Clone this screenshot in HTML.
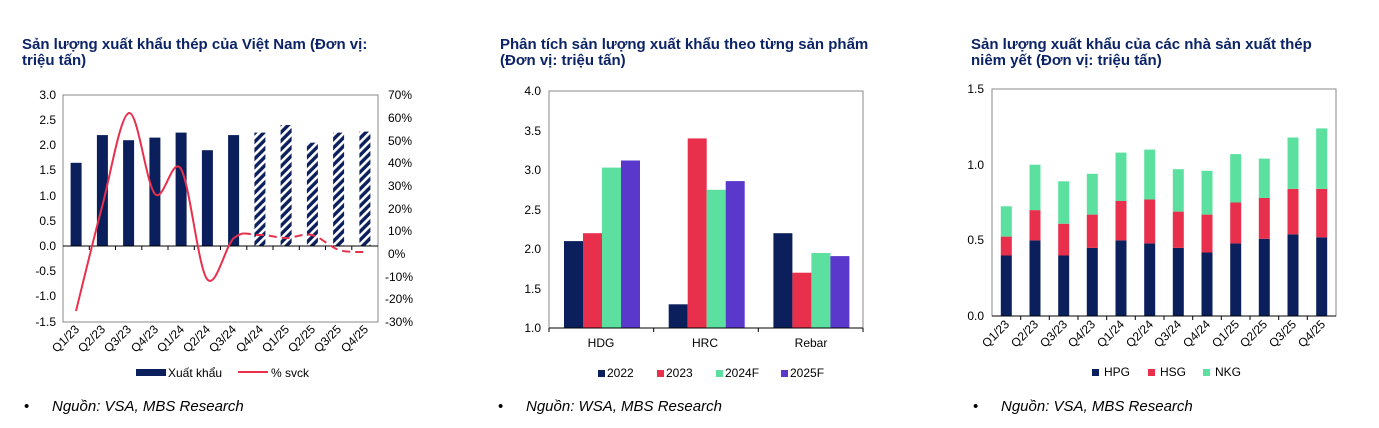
<!DOCTYPE html>
<html><head><meta charset="utf-8"><style>
html,body{margin:0;padding:0;background:#fff;}
svg{display:block;font-family:"Liberation Sans",Arial,sans-serif;}
.t{font-weight:bold;fill:#0c2466;font-size:15px;}
.a{font-size:12px;fill:#000;}
.s{font-size:15px;font-style:italic;fill:#000;}
</style></head><body>
<svg width="1379" height="428" viewBox="0 0 1379 428" xmlns="http://www.w3.org/2000/svg">
<defs>
<pattern id="h" width="6" height="6" patternUnits="userSpaceOnUse" patternTransform="rotate(45)">
<rect width="6" height="6" fill="#0a1f5c"/><rect width="2.6" height="6" fill="#fff"/>
</pattern>
</defs>
<!-- titles -->
<text class="t" x="22" y="49">Sản lượng xuất khẩu thép của Việt Nam (Đơn vị:</text>
<text class="t" x="22" y="65">triệu tấn)</text>
<text class="t" x="500" y="49">Phân tích sản lượng xuất khẩu theo từng sản phẩm</text>
<text class="t" x="500" y="65">(Đơn vị: triệu tấn)</text>
<text class="t" x="971" y="49">Sản lượng xuất khẩu của các nhà sản xuất thép</text>
<text class="t" x="971" y="65">niêm yết (Đơn vị: triệu tấn)</text>

<!-- CHART 1 -->
<g>
<rect x="63" y="95" width="315" height="227" fill="none" stroke="#888" stroke-width="1"/>
<g fill="#0a1f5c">
<rect x="70.6" y="162.8" width="11" height="83.2"/>
<rect x="96.9" y="135.1" width="11" height="110.9"/>
<rect x="123.1" y="140.2" width="11" height="105.8"/>
<rect x="149.4" y="137.6" width="11" height="108.4"/>
<rect x="175.6" y="132.6" width="11" height="113.4"/>
<rect x="201.9" y="150.2" width="11" height="95.8"/>
<rect x="228.1" y="135.1" width="11" height="110.9"/>
</g>
<g fill="url(#h)">
<rect x="254.4" y="132.6" width="11" height="113.4"/>
<rect x="280.6" y="125" width="11" height="121"/>
<rect x="306.9" y="142.7" width="11" height="103.3"/>
<rect x="333.1" y="132.6" width="11" height="113.4"/>
<rect x="359.4" y="131.6" width="11" height="114.4"/>
</g>
<line x1="63" y1="246" x2="378" y2="246" stroke="#000" stroke-width="1"/>
<g stroke="#000" stroke-width="1">
<line x1="89.3" y1="246" x2="89.3" y2="250"/><line x1="115.5" y1="246" x2="115.5" y2="250"/><line x1="141.8" y1="246" x2="141.8" y2="250"/><line x1="168" y1="246" x2="168" y2="250"/><line x1="194.3" y1="246" x2="194.3" y2="250"/><line x1="220.5" y1="246" x2="220.5" y2="250"/><line x1="246.8" y1="246" x2="246.8" y2="250"/><line x1="273" y1="246" x2="273" y2="250"/><line x1="299.3" y1="246" x2="299.3" y2="250"/><line x1="325.5" y1="246" x2="325.5" y2="250"/><line x1="351.8" y1="246" x2="351.8" y2="250"/>
</g>
<path d="M76,311 C80.3,293.7 93.2,240 102,207 C110.8,174 120.2,115.2 129,113 C137.8,110.8 146.3,184.7 155,194 C163.7,203.3 172.3,154.8 181,169 C189.7,183.2 198.2,267.5 207,279 C215.8,290.7 225.2,245.3 234,238 C238,235 240,234 243,233.5" fill="none" stroke="#e8304d" stroke-width="2"/>
<path d="M243,233.5 C248,233 251.3,235 260,235 C268.7,234.5 277.3,238 286,238 C294.7,238 303.2,233 312,235 C320.8,237 330.2,247.2 339,250 C347.8,252.8 360.7,251.7 365,252" fill="none" stroke="#e8304d" stroke-width="2" stroke-dasharray="8,5"/>
<g class="a" text-anchor="end">
<text x="56" y="99">3.0</text><text x="56" y="124">2.5</text><text x="56" y="149">2.0</text><text x="56" y="174">1.5</text><text x="56" y="200">1.0</text><text x="56" y="225">0.5</text><text x="56" y="250">0.0</text><text x="56" y="275">-0.5</text><text x="56" y="300">-1.0</text><text x="56" y="326">-1.5</text>
</g>
<g class="a">
<text x="388" y="99">70%</text><text x="388" y="122">60%</text><text x="388" y="145">50%</text><text x="388" y="167">40%</text><text x="388" y="190">30%</text><text x="388" y="213">20%</text><text x="388" y="235">10%</text><text x="388" y="258">0%</text><text x="385" y="281">-10%</text><text x="385" y="303">-20%</text><text x="385" y="326">-30%</text>
</g>
<g class="a" text-anchor="end">
<text transform="translate(80,330) rotate(-45)">Q1/23</text>
<text transform="translate(106,330) rotate(-45)">Q2/23</text>
<text transform="translate(132,330) rotate(-45)">Q3/23</text>
<text transform="translate(159,330) rotate(-45)">Q4/23</text>
<text transform="translate(185,330) rotate(-45)">Q1/24</text>
<text transform="translate(211,330) rotate(-45)">Q2/24</text>
<text transform="translate(237,330) rotate(-45)">Q3/24</text>
<text transform="translate(264,330) rotate(-45)">Q4/24</text>
<text transform="translate(290,330) rotate(-45)">Q1/25</text>
<text transform="translate(316,330) rotate(-45)">Q2/25</text>
<text transform="translate(342,330) rotate(-45)">Q3/25</text>
<text transform="translate(369,330) rotate(-45)">Q4/25</text>
</g>
<rect x="136" y="369" width="30" height="7" fill="#0a1f5c"/>
<text class="a" x="168" y="377">Xuất khẩu</text>
<line x1="238" y1="372" x2="268" y2="372" stroke="#e8304d" stroke-width="2"/>
<text class="a" x="271" y="377">% svck</text>
</g>

<!-- CHART 2 -->
<g>
<rect x="549" y="91" width="314" height="237" fill="none" stroke="#888"/>
<g fill="#0a1f5c"><rect x="564" y="241.1" width="19" height="86.9"/><rect x="668.7" y="304.3" width="19" height="23.7"/><rect x="773.4" y="233.2" width="19" height="94.8"/></g>
<g fill="#e8304d"><rect x="583" y="233.2" width="19" height="94.8"/><rect x="687.7" y="138.4" width="19" height="189.6"/><rect x="792.4" y="272.7" width="19" height="55.3"/></g>
<g fill="#5ce0a0"><rect x="602" y="167.6" width="19" height="160.4"/><rect x="706.7" y="189.8" width="19" height="138.2"/><rect x="811.4" y="253" width="19" height="75"/></g>
<g fill="#5b38cc"><rect x="621" y="160.5" width="19" height="167.5"/><rect x="725.7" y="181.1" width="19" height="146.9"/><rect x="830.4" y="256.1" width="19" height="71.9"/></g>
<line x1="549" y1="328" x2="863" y2="328" stroke="#000"/>
<g stroke="#000"><line x1="549" y1="328" x2="549" y2="332"/><line x1="653.7" y1="328" x2="653.7" y2="332"/><line x1="758.3" y1="328" x2="758.3" y2="332"/><line x1="863" y1="328" x2="863" y2="332"/></g>
<g class="a" text-anchor="end">
<text x="541" y="95">4.0</text><text x="541" y="135">3.5</text><text x="541" y="174">3.0</text><text x="541" y="214">2.5</text><text x="541" y="253">2.0</text><text x="541" y="293">1.5</text><text x="541" y="332">1.0</text>
</g>
<g class="a" text-anchor="middle"><text x="601" y="347">HDG</text><text x="705" y="347">HRC</text><text x="811" y="347">Rebar</text></g>
<rect x="598" y="370" width="7" height="7" fill="#0a1f5c"/><text class="a" x="607" y="377">2022</text>
<rect x="657" y="370" width="7" height="7" fill="#e8304d"/><text class="a" x="666" y="377">2023</text>
<rect x="716" y="370" width="7" height="7" fill="#5ce0a0"/><text class="a" x="725" y="377">2024F</text>
<rect x="781" y="370" width="7" height="7" fill="#5b38cc"/><text class="a" x="790" y="377">2025F</text>
</g>

<!-- CHART 3 -->
<g>
<rect x="992" y="89" width="344" height="227" fill="none" stroke="#888"/>
<g fill="#0a1f5c">
<rect x="1000.8" y="255.5" width="11" height="60.5"/><rect x="1029.5" y="240.4" width="11" height="75.6"/><rect x="1058.2" y="255.5" width="11" height="60.5"/><rect x="1086.8" y="247.9" width="11" height="68.1"/><rect x="1115.5" y="240.4" width="11" height="75.6"/><rect x="1144.2" y="243.4" width="11" height="72.6"/><rect x="1172.8" y="247.9" width="11" height="68.1"/><rect x="1201.5" y="252.5" width="11" height="63.5"/><rect x="1230.2" y="243.4" width="11" height="72.6"/><rect x="1258.8" y="238.8" width="11" height="77.2"/><rect x="1287.5" y="234.3" width="11" height="81.7"/><rect x="1316.2" y="237.3" width="11" height="78.7"/>
</g>
<g fill="#e8304d">
<rect x="1000.8" y="236.6" width="11" height="18.9"/><rect x="1029.5" y="210.1" width="11" height="30.3"/><rect x="1058.2" y="223.7" width="11" height="31.8"/><rect x="1086.8" y="214.6" width="11" height="33.3"/><rect x="1115.5" y="201" width="11" height="39.4"/><rect x="1144.2" y="199.5" width="11" height="43.9"/><rect x="1172.8" y="211.6" width="11" height="36.3"/><rect x="1201.5" y="214.6" width="11" height="37.9"/><rect x="1230.2" y="202.5" width="11" height="40.9"/><rect x="1258.8" y="198" width="11" height="40.8"/><rect x="1287.5" y="188.9" width="11" height="45.4"/><rect x="1316.2" y="188.9" width="11" height="48.4"/>
</g>
<g fill="#5ce0a0">
<rect x="1000.8" y="206.3" width="11" height="30.3"/><rect x="1029.5" y="164.7" width="11" height="45.4"/><rect x="1058.2" y="181.3" width="11" height="42.4"/><rect x="1086.8" y="173.8" width="11" height="40.8"/><rect x="1115.5" y="152.6" width="11" height="48.4"/><rect x="1144.2" y="149.6" width="11" height="49.9"/><rect x="1172.8" y="169.2" width="11" height="42.4"/><rect x="1201.5" y="170.8" width="11" height="43.8"/><rect x="1230.2" y="154.1" width="11" height="48.4"/><rect x="1258.8" y="158.6" width="11" height="39.4"/><rect x="1287.5" y="137.5" width="11" height="51.4"/><rect x="1316.2" y="128.4" width="11" height="60.5"/>
</g>
<line x1="992" y1="316" x2="1336" y2="316" stroke="#000"/>
<g stroke="#000"><line x1="1020.7" y1="316" x2="1020.7" y2="320"/><line x1="1049.3" y1="316" x2="1049.3" y2="320"/><line x1="1078" y1="316" x2="1078" y2="320"/><line x1="1106.7" y1="316" x2="1106.7" y2="320"/><line x1="1135.3" y1="316" x2="1135.3" y2="320"/><line x1="1164" y1="316" x2="1164" y2="320"/><line x1="1192.7" y1="316" x2="1192.7" y2="320"/><line x1="1221.3" y1="316" x2="1221.3" y2="320"/><line x1="1250" y1="316" x2="1250" y2="320"/><line x1="1278.7" y1="316" x2="1278.7" y2="320"/><line x1="1307.3" y1="316" x2="1307.3" y2="320"/></g>
<g class="a" text-anchor="end"><text x="984" y="93">1.5</text><text x="984" y="169">1.0</text><text x="984" y="244">0.5</text><text x="984" y="320">0.0</text></g>
<g class="a" text-anchor="end">
<text transform="translate(1010,325) rotate(-45)">Q1/23</text>
<text transform="translate(1039,325) rotate(-45)">Q2/23</text>
<text transform="translate(1068,325) rotate(-45)">Q3/23</text>
<text transform="translate(1096,325) rotate(-45)">Q4/23</text>
<text transform="translate(1125,325) rotate(-45)">Q1/24</text>
<text transform="translate(1154,325) rotate(-45)">Q2/24</text>
<text transform="translate(1182,325) rotate(-45)">Q3/24</text>
<text transform="translate(1211,325) rotate(-45)">Q4/24</text>
<text transform="translate(1240,325) rotate(-45)">Q1/25</text>
<text transform="translate(1268,325) rotate(-45)">Q2/25</text>
<text transform="translate(1297,325) rotate(-45)">Q3/25</text>
<text transform="translate(1326,325) rotate(-45)">Q4/25</text>
</g>
<rect x="1092" y="369" width="7" height="7" fill="#0a1f5c"/><text class="a" x="1104" y="376">HPG</text>
<rect x="1148" y="369" width="7" height="7" fill="#e8304d"/><text class="a" x="1160" y="376">HSG</text>
<rect x="1203" y="369" width="7" height="7" fill="#5ce0a0"/><text class="a" x="1215" y="376">NKG</text>
</g>

<!-- sources -->
<text class="s" x="24" y="411" style="font-style:normal">•</text><text class="s" x="52" y="411">Nguồn: VSA, MBS Research</text>
<text class="s" x="498" y="411" style="font-style:normal">•</text><text class="s" x="526" y="411">Nguồn: WSA, MBS Research</text>
<text class="s" x="973" y="411" style="font-style:normal">•</text><text class="s" x="1001" y="411">Nguồn: VSA, MBS Research</text>
</svg>
</body></html>
